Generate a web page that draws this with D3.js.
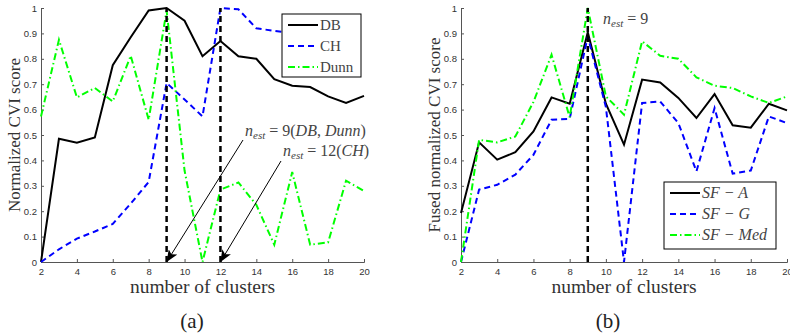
<!DOCTYPE html>
<html><head><meta charset="utf-8">
<script src="https://cdn.jsdelivr.net/npm/d3@7"></script>
<style>body{margin:0;background:#fff}svg{display:block}</style>
</head><body>
<script>
const clusters = d3.range(2, 21);
const yTicks = [0,0.1,0.2,0.3,0.4,0.5,0.6,0.7,0.8,0.9,1];
const xTicks = [2,4,6,8,10,12,14,16,18,20];
const yTickLabels = ["0","0.1","0.2","0.3","0.4","0.5","0.6","0.7","0.8","0.9","1"];

// (a)
const DB   = [0,0.485,0.47,0.49,0.775,0.885,0.99,1.0,0.95,0.81,0.87,0.81,0.80,0.72,0.694,0.689,0.652,0.626,0.654];
const CH   = [0,0.05,0.092,0.12,0.15,0.23,0.315,0.705,0.64,0.573,1.0,0.995,0.92,0.91,0.90,0.89,0.88,0.87,0.86];
const Dunn = [0.573,0.875,0.648,0.685,0.632,0.812,0.56,0.99,0.36,0,0.285,0.313,0.225,0.068,0.354,0.068,0.077,0.32,0.28];
// (b)
const SFA   = [0.193,0.471,0.403,0.432,0.514,0.648,0.623,0.905,0.623,0.462,0.718,0.707,0.646,0.567,0.661,0.538,0.529,0.623,0.597];
const SFG   = [0,0.285,0.304,0.344,0.422,0.56,0.564,0.888,0.61,0,0.626,0.632,0.547,0.357,0.606,0.348,0.36,0.573,0.547];
const SFMed = [0,0.481,0.471,0.494,0.63,0.816,0.57,1.0,0.652,0.58,0.869,0.812,0.80,0.727,0.694,0.685,0.652,0.626,0.652];

const W = 790, H = 334;
const svg = d3.select("body").append("svg").attr("width", W).attr("height", H);
const defs = svg.append("defs");
defs.append("marker").attr("id","arr").attr("viewBox","0 0 12 10").attr("refX",12).attr("refY",5)
  .attr("markerWidth",12).attr("markerHeight",10).attr("markerUnits","userSpaceOnUse").attr("orient","auto")
  .append("path").attr("d","M0,0 L12,5 L0,10 L3,5 Z").attr("fill","#000");

const serif = "'Liberation Serif', 'Times New Roman', serif";
const sans = "'Liberation Sans', Arial, sans-serif";

const styles = {
  solid:   {stroke:"#000", dash:null, w:2},
  dashed:  {stroke:"#0000ff", dash:"6,4", w:2},
  dashdot: {stroke:"#00ff00", dash:"7,3,1.5,3", w:2}
};

function panel(opts) {
  const x = d3.scaleLinear().domain([2,20]).range([opts.x0, opts.x1]);
  const y = d3.scaleLinear().domain([0,1]).range([262, 8]);
  const g = svg.append("g");
  const ax = g.append("g").attr("transform",`translate(0,262)`)
    .call(d3.axisBottom(x).tickValues(xTicks).tickSize(-3).tickPadding(6).tickFormat(d3.format("d")));
  const ay = g.append("g").attr("transform",`translate(${opts.x0},0)`)
    .call(d3.axisLeft(y).tickValues(yTicks).tickSize(-3).tickPadding(4).tickFormat((d,i)=>yTickLabels[i]));
  [ax, ay].forEach(a => {
    a.select(".domain").attr("stroke","#555").attr("stroke-width",1);
    a.selectAll(".tick line").attr("stroke","#555");
    a.selectAll("text").attr("font-family",sans).attr("font-size",9.5).attr("fill","#333");
  });
  const line = d3.line().x((d,i)=>x(clusters[i])).y(d=>y(d));
  opts.series.forEach(s => {
    const st = styles[s.style];
    g.append("path").datum(s.data).attr("d",line).attr("fill","none")
      .attr("stroke",st.stroke).attr("stroke-width",st.w).attr("stroke-dasharray",st.dash)
      .attr("stroke-linejoin","miter");
  });
  opts.vlines.forEach(v => {
    g.append("line").attr("x1",x(v)).attr("x2",x(v)).attr("y1",y(0)).attr("y2",y(1))
      .attr("stroke","#000").attr("stroke-width",2.5).attr("stroke-dasharray","6,4");
  });
  g.append("text").attr("x",(opts.x0+opts.x1)/2).attr("y",293).attr("text-anchor","middle")
    .attr("font-family",serif).attr("font-size",19.5).attr("fill","#333").text("number of clusters");
  g.append("text").attr("transform",`translate(${opts.x0-21},135) rotate(-90)`).attr("text-anchor","middle")
    .attr("font-family",serif).attr("font-size",17).attr("fill","#333").text(opts.ylabel);
  g.append("text").attr("x",opts.capX).attr("y",328).attr("text-anchor","middle")
    .attr("font-family",serif).attr("font-size",21).attr("fill","#222").text(opts.cap);
  return {x, y, g};
}

const A = panel({x0:41, x1:364, ylabel:"Normalized CVI score", cap:"(a)", capX:192,
  series:[{data:DB,style:"solid"},{data:CH,style:"dashed"},{data:Dunn,style:"dashdot"}], vlines:[9,12]});
const B = panel({x0:461, x1:787, ylabel:"Fused normalized CVI score", cap:"(b)", capX:608,
  series:[{data:SFA,style:"solid"},{data:SFG,style:"dashed"},{data:SFMed,style:"dashdot"}], vlines:[9]});

function nest(g, xpos, ypos, parts) {
  const t = g.append("text").attr("x",xpos).attr("y",ypos).attr("font-family",serif)
    .attr("font-size",16).attr("fill","#444");
  t.append("tspan").attr("font-style","italic").text("n");
  t.append("tspan").attr("font-style","italic").attr("font-size",11).attr("dy",3).text("est");
  t.append("tspan").attr("dy",-3).text(" = ");
  parts.forEach(p => t.append("tspan").attr("font-style",p[1]?"italic":"normal").text(p[0]));
}
nest(A.g, 245, 136, [["9(",0],["DB",1],[", ",0],["Dunn",1],[")",0]]);
nest(A.g, 283, 156, [["12(",0],["CH",1],[")",0]]);
A.g.append("line").attr("x1",243).attr("y1",140).attr("x2",A.x(9)).attr("y2",A.y(0))
  .attr("stroke","#000").attr("stroke-width",1).attr("marker-end","url(#arr)");
A.g.append("line").attr("x1",281).attr("y1",161).attr("x2",A.x(12)).attr("y2",A.y(0))
  .attr("stroke","#000").attr("stroke-width",1).attr("marker-end","url(#arr)");
nest(B.g, 603, 24, [["9",0]]);

function legend(g, bx, by, bw, bh, items, italic, fs) {
  g.append("rect").attr("x",bx).attr("y",by).attr("width",bw).attr("height",bh)
    .attr("fill","#fff").attr("stroke","#000").attr("stroke-width",1);
  items.forEach((it,i) => {
    const st = styles[it.style];
    const yy = by + 11 + i*21;
    g.append("line").attr("x1",bx+6).attr("x2",bx+36).attr("y1",yy).attr("y2",yy)
      .attr("stroke",st.stroke).attr("stroke-width",st.w).attr("stroke-dasharray",st.dash);
    g.append("text").attr("x",bx+38).attr("y",yy+5).attr("font-family",serif).attr("font-size",fs)
      .attr("font-style",italic?"italic":"normal").attr("fill","#444").text(it.name);
  });
}
legend(A.g, 282, 14, 79, 63, [{name:"DB",style:"solid"},{name:"CH",style:"dashed"},{name:"Dunn",style:"dashdot"}], false, 15);
legend(B.g, 664, 182, 112, 67, [{name:"SF − A",style:"solid"},{name:"SF − G",style:"dashed"},{name:"SF − Med",style:"dashdot"}], true, 16);
</script>
</body></html>
